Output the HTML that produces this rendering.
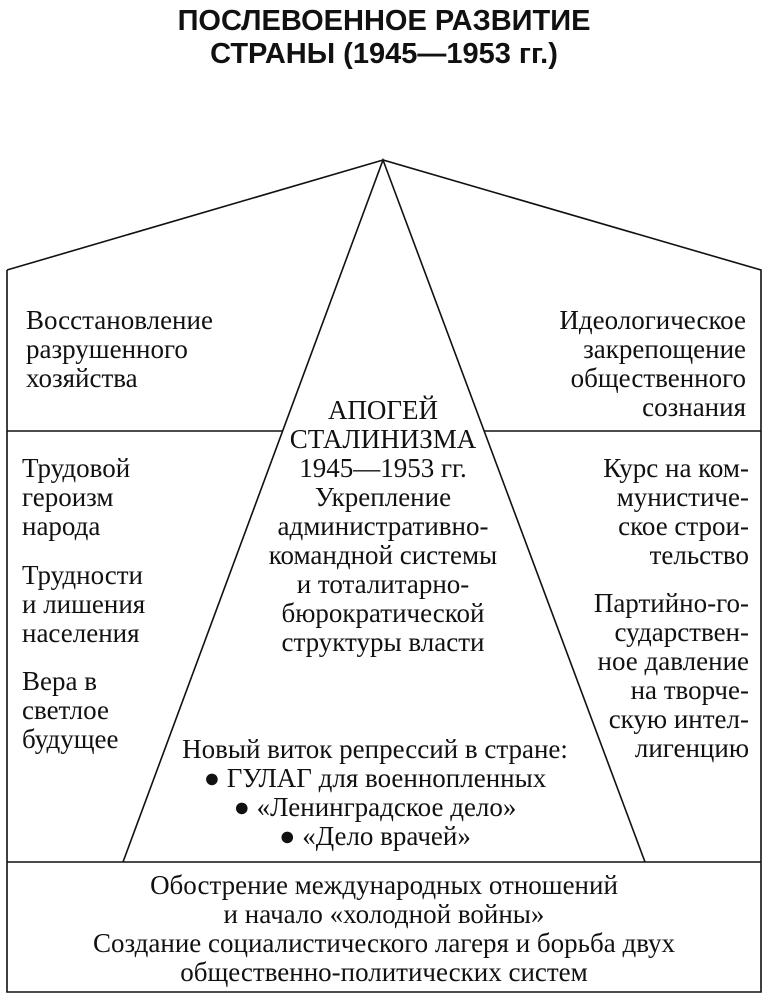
<!DOCTYPE html>
<html><head><meta charset="utf-8"><style>
body{margin:0;width:768px;height:995px;background:#fff;position:relative;overflow:hidden}
.t{position:absolute;font-family:"Liberation Serif",serif;font-size:27px;line-height:29px;color:#111;white-space:nowrap}
.h{position:absolute;left:0;width:768px;text-align:center;font-family:"Liberation Sans",sans-serif;font-weight:bold;font-size:29px;line-height:33px;top:5px;color:#111}
.c{text-align:center}
.r{text-align:right}
</style></head><body>
<svg width="768" height="995" style="position:absolute;left:0;top:0">
<g stroke="#111" stroke-width="1.6" fill="none">
<polyline points="7,270 383,160 761,270 761,992 7,992 7,270"/>
<line x1="7" y1="431" x2="283" y2="431"/>
<line x1="484" y1="431" x2="761" y2="431"/>
<line x1="7" y1="862" x2="761" y2="862"/>
<polyline points="123,862 383,160 645,862"/>
</g></svg>
<div class="h">ПОСЛЕВОЕННОЕ РАЗВИТИЕ<br>СТРАНЫ (1945—1953 гг.)</div>
<div class="t" style="left:26px;top:306px">Восстановление<br>разрушенного<br>хозяйства</div>
<div class="t r" style="right:22px;top:306px">Идеологическое<br>закрепощение<br>общественного<br>сознания</div>
<div class="t c" style="left:183px;width:400px;top:396px">АПОГЕЙ<br>СТАЛИНИЗМА<br>1945—1953 гг.<br>Укрепление<br>административно-<br>командной системы<br>и тоталитарно-<br>бюрократической<br>структуры власти</div>
<div class="t" style="left:22px;top:454px">Трудовой<br>героизм<br>народа</div>
<div class="t" style="left:22px;top:561px">Трудности<br>и лишения<br>населения</div>
<div class="t" style="left:22px;top:667px">Вера в<br>светлое<br>будущее</div>
<div class="t r" style="right:19px;top:454px">Курс на ком-<br>мунистиче-<br>ское строи-<br>тельство</div>
<div class="t r" style="right:19px;top:589px">Партийно-го-<br>сударствен-<br>ное давление<br>на творче-<br>скую интел-<br>лигенцию</div>
<div class="t c" style="left:150px;width:450px;top:735px">Новый виток репрессий в стране:<br>● ГУЛАГ для военнопленных<br>● «Ленинградское дело»<br>● «Дело врачей»</div>
<div class="t c" style="left:0;width:768px;top:871px">Обострение международных отношений<br>и начало «холодной войны»<br>Создание социалистического лагеря и борьба двух<br>общественно-политических систем</div>
</body></html>
